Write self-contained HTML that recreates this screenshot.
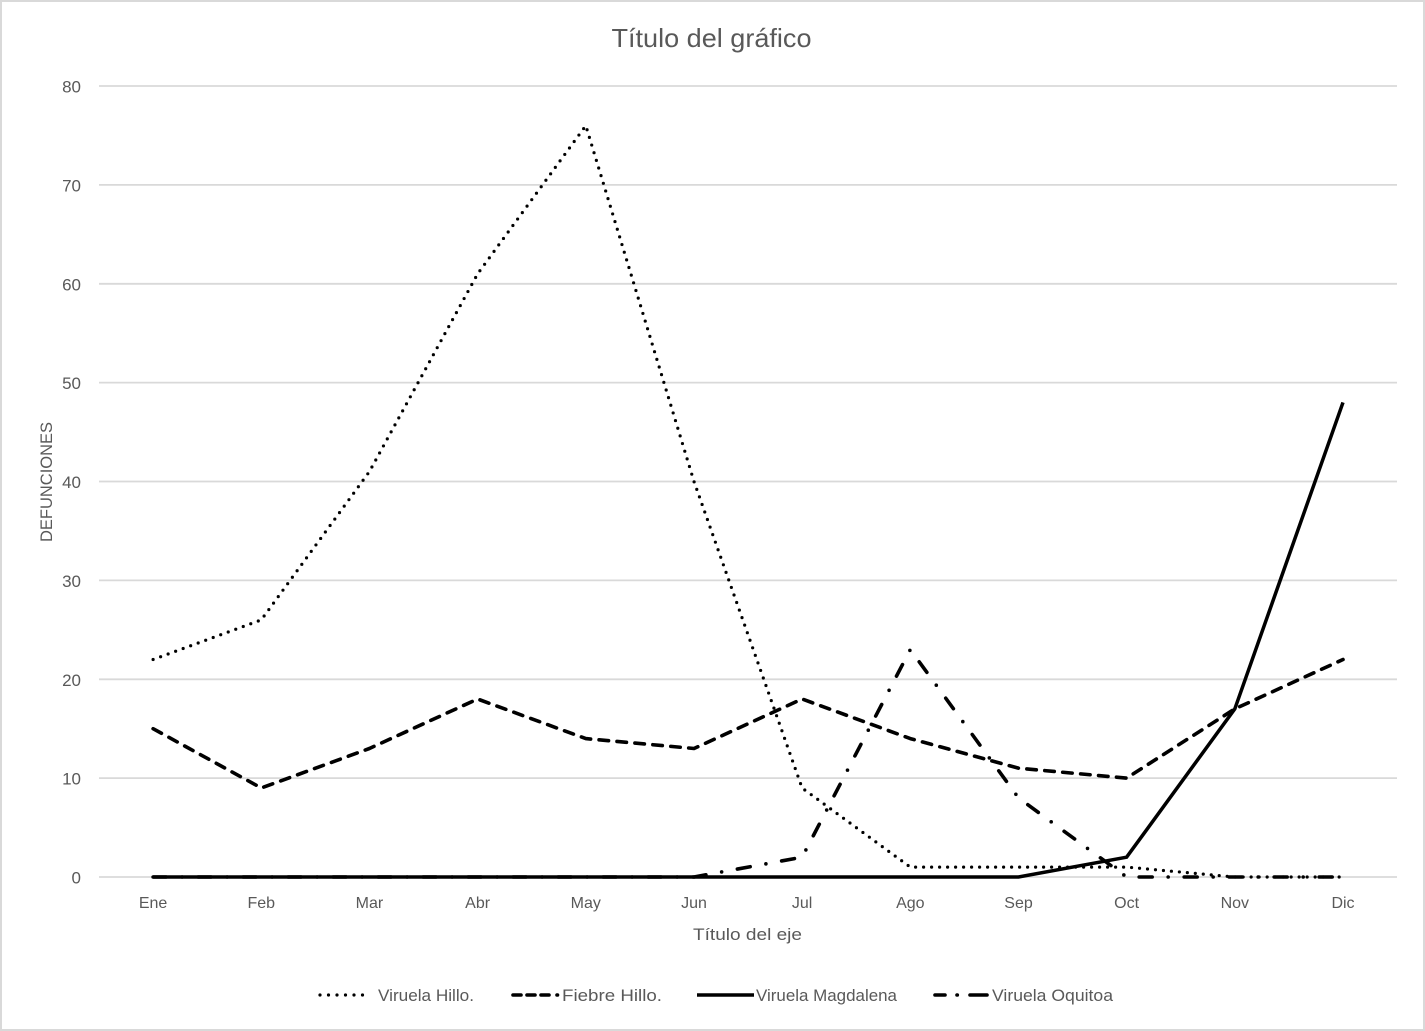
<!DOCTYPE html>
<html>
<head>
<meta charset="utf-8">
<style>
  html, body { margin: 0; padding: 0; background: #ffffff; }
  svg { display: block; }
  text { font-family: "Liberation Sans", "DejaVu Sans", sans-serif; fill: #595959; }
</style>
</head>
<body>
<svg width="1425" height="1031" viewBox="0 0 1425 1031" xmlns="http://www.w3.org/2000/svg">
  <rect x="0" y="0" width="1425" height="1031" fill="#ffffff"/>
  <rect x="1" y="1" width="1423" height="1029" fill="none" stroke="#d9d9d9" stroke-width="2"/>

  <!-- Title -->
  <text x="711.5" y="47" font-size="26" text-anchor="middle" textLength="200" lengthAdjust="spacingAndGlyphs">Título del gráfico</text>

  <!-- Gridlines -->
  <g stroke="#d9d9d9" stroke-width="1.8">
    <line x1="99" y1="86" x2="1397" y2="86"/>
    <line x1="99" y1="184.9" x2="1397" y2="184.9"/>
    <line x1="99" y1="283.8" x2="1397" y2="283.8"/>
    <line x1="99" y1="382.6" x2="1397" y2="382.6"/>
    <line x1="99" y1="481.5" x2="1397" y2="481.5"/>
    <line x1="99" y1="580.4" x2="1397" y2="580.4"/>
    <line x1="99" y1="679.3" x2="1397" y2="679.3"/>
    <line x1="99" y1="778.1" x2="1397" y2="778.1"/>
    <line x1="99" y1="877" x2="1397" y2="877"/>
  </g>

  <!-- Y tick labels -->
  <g font-size="17" text-anchor="end">
    <text x="81" y="92.5">80</text>
    <text x="81" y="191.4">70</text>
    <text x="81" y="290.3">60</text>
    <text x="81" y="389.1">50</text>
    <text x="81" y="488">40</text>
    <text x="81" y="586.9">30</text>
    <text x="81" y="685.8">20</text>
    <text x="81" y="784.6">10</text>
    <text x="81" y="883.5">0</text>
  </g>

  <!-- Y axis title -->
  <text x="0" y="0" font-size="17" text-anchor="middle" textLength="120" lengthAdjust="spacingAndGlyphs" transform="translate(52,482) rotate(-90)">DEFUNCIONES</text>

  <!-- X tick labels -->
  <g font-size="16" text-anchor="middle">
    <text x="153.1" y="908">Ene</text>
    <text x="261.3" y="908">Feb</text>
    <text x="369.4" y="908">Mar</text>
    <text x="477.6" y="908">Abr</text>
    <text x="585.8" y="908">May</text>
    <text x="694.0" y="908">Jun</text>
    <text x="802.1" y="908">Jul</text>
    <text x="910.3" y="908">Ago</text>
    <text x="1018.5" y="908">Sep</text>
    <text x="1126.6" y="908">Oct</text>
    <text x="1234.8" y="908">Nov</text>
    <text x="1343.0" y="908">Dic</text>
  </g>

  <!-- X axis title -->
  <text x="747.5" y="940" font-size="17" text-anchor="middle" textLength="109" lengthAdjust="spacingAndGlyphs">Título del eje</text>

  <!-- Series: Viruela Hillo. (dotted) -->
  <polyline fill="none" stroke="#000" stroke-width="3.2" stroke-linecap="round" stroke-dasharray="0 8"
    points="153.1,659.5 261.3,619.9 369.4,471.6 477.6,273.9 585.8,125.6 694.0,481.5 802.1,788.0 910.3,867.1 1018.5,867.1 1126.6,867.1 1234.8,877 1343.0,877"/>

  <!-- Series: Fiebre Hillo. (dashed) -->
  <polyline fill="none" stroke="#000" stroke-width="3.6" stroke-linecap="round" stroke-linejoin="round" stroke-dasharray="9.5 8.5"
    points="153.1,728.7 261.3,788.0 369.4,748.5 477.6,699.0 585.8,738.6 694.0,748.5 802.1,699.0 910.3,738.6 1018.5,768.2 1126.6,778.1 1234.8,708.9 1343.0,659.5"/>

  <!-- Series: Viruela Magdalena (solid) -->
  <polyline fill="none" stroke="#000" stroke-width="3.5" stroke-linejoin="miter"
    points="153.1,877 261.3,877 369.4,877 477.6,877 585.8,877 694.0,877 802.1,877 910.3,877 1018.5,877 1126.6,857.2 1234.8,708.9 1343.0,402.4"/>

  <!-- Series: Viruela Oquitoa (dash-dot) -->
  <polyline fill="none" stroke="#000" stroke-width="3.6" stroke-linecap="round" stroke-linejoin="round" stroke-dasharray="13 16 0 16"
    points="153.1,877 261.3,877 369.4,877 477.6,877 585.8,877 694.0,877 802.1,857.2 910.3,649.6 1018.5,797.9 1126.6,877 1234.8,877 1343.0,877"/>

  <!-- Legend -->
  <line x1="320" y1="995" x2="371" y2="995" stroke="#000" stroke-width="3.2" stroke-linecap="round" stroke-dasharray="0 8.5"/>
  <text x="378" y="1001" font-size="17" textLength="96" lengthAdjust="spacingAndGlyphs">Viruela Hillo.</text>

  <g stroke="#000" stroke-width="3.6" stroke-linecap="round">
    <line x1="513" y1="995" x2="521" y2="995"/>
    <line x1="527" y1="995" x2="535" y2="995"/>
    <line x1="541" y1="995" x2="549" y2="995"/>
    <line x1="557" y1="995" x2="557.5" y2="995"/>
  </g>
  <text x="562" y="1001" font-size="17" textLength="100" lengthAdjust="spacingAndGlyphs">Fiebre Hillo.</text>

  <line x1="697" y1="995" x2="754" y2="995" stroke="#000" stroke-width="3.5"/>
  <text x="756" y="1001" font-size="17" textLength="141" lengthAdjust="spacingAndGlyphs">Viruela Magdalena</text>

  <g stroke="#000" stroke-width="3.6" stroke-linecap="round">
    <line x1="935" y1="995" x2="945" y2="995"/>
    <line x1="957" y1="995" x2="957.3" y2="995"/>
    <line x1="970" y1="995" x2="987" y2="995"/>
  </g>
  <text x="992" y="1001" font-size="17" textLength="121" lengthAdjust="spacingAndGlyphs">Viruela Oquitoa</text>
</svg>
</body>
</html>
